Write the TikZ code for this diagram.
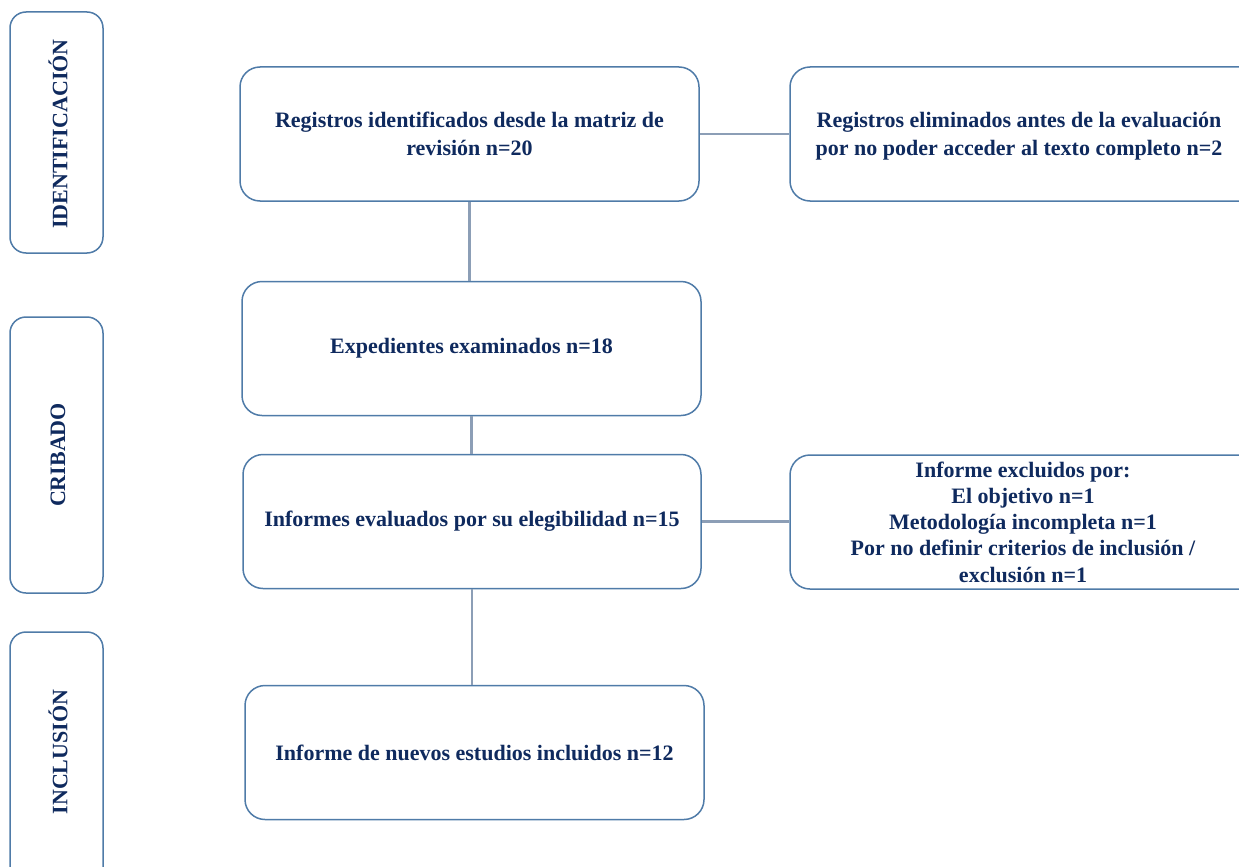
\documentclass[tikz,border=0pt]{standalone}
\usepackage{fontspec}
\setmainfont{Liberation Serif}
\definecolor{txtc}{HTML}{0F2A5E}
\definecolor{brd}{HTML}{4F7BA8}
\definecolor{conn}{HTML}{8C9EB6}
\begin{document}
\begin{tikzpicture}[x=1pt,y=-1pt,
  box/.style={draw=brd, line width=1.5pt, rounded corners=20pt, fill=white,
    text=txtc, font=\fontsize{22}{28}\selectfont\bfseries, align=center,
    minimum width=459pt, minimum height=134pt, inner sep=0pt},
  side/.style={draw=brd, line width=1.5pt, rounded corners=16pt, fill=white,
    minimum width=93pt, inner sep=0pt},
  sidelbl/.style={text=txtc, font=\fontsize{22}{26}\selectfont\bfseries, rotate=90},
  link/.style={draw=conn, line width=2.5pt}]
\useasboundingbox (0,0) rectangle (1239,867);
\clip (0,0) rectangle (1239,867);
\fill[white] (0,0) rectangle (1239,867);
% side boxes
\node[side, minimum height=241pt] (s1) at (56.5,132.5) {};
\node[sidelbl] (l1) at (58,134) {IDENTIFICACIÓN};
\node[side, minimum height=276pt] (s2) at (56.5,455) {};
\node[sidelbl] (l2) at (58,455) {CRIBADO};
\node[side, minimum height=260pt] (s3) at (56.5,762) {};
\node[sidelbl] (l3) at (58,752) {INCLUSIÓN};
% main boxes
\node[box] (b1) at (469.5,134) {Registros identificados desde la matriz de\\revisión n=20};
\node[box] (b2) at (471.5,348.5) {Expedientes examinados n=18};
\node[box, minimum width=458pt] (b3) at (472,521.5) {Informes evaluados por su elegibilidad n=15};
\node[box] (b4) at (474.5,752.5) {Informe de nuevos estudios incluidos n=12};
% right boxes (cut at the page edge)
\node[box, minimum width=470pt] (r1) at (1025,134) {};
\node[text=txtc, font=\fontsize{22}{28}\selectfont\bfseries, align=center, inner sep=0pt] (t1) at (1019,136) {Registros eliminados antes de la evaluación\\por no poder acceder al texto completo n=2};
\node[box, minimum width=470pt] (r2) at (1025,522) {};
\node[text=txtc, font=\fontsize{22}{26.3}\selectfont\bfseries, align=center, inner sep=0pt] (t2) at (1023,522) {Informe excluidos por:\\El objetivo n=1\\Metodología incompleta n=1\\Por no definir criterios de inclusión /\\exclusión n=1};
% connectors
\draw[link] (b1.south) -- (b1.south |- b2.north);
\draw[link] (b2.south) -- (b2.south |- b3.north);
\draw[link] (b3.south) -- (b3.south |- b4.north);
\draw[link] (b1.east) -- (r1.west |- b1.east);
\draw[link] (b3.east) -- (r2.west |- b3.east);
\end{tikzpicture}
\end{document}
